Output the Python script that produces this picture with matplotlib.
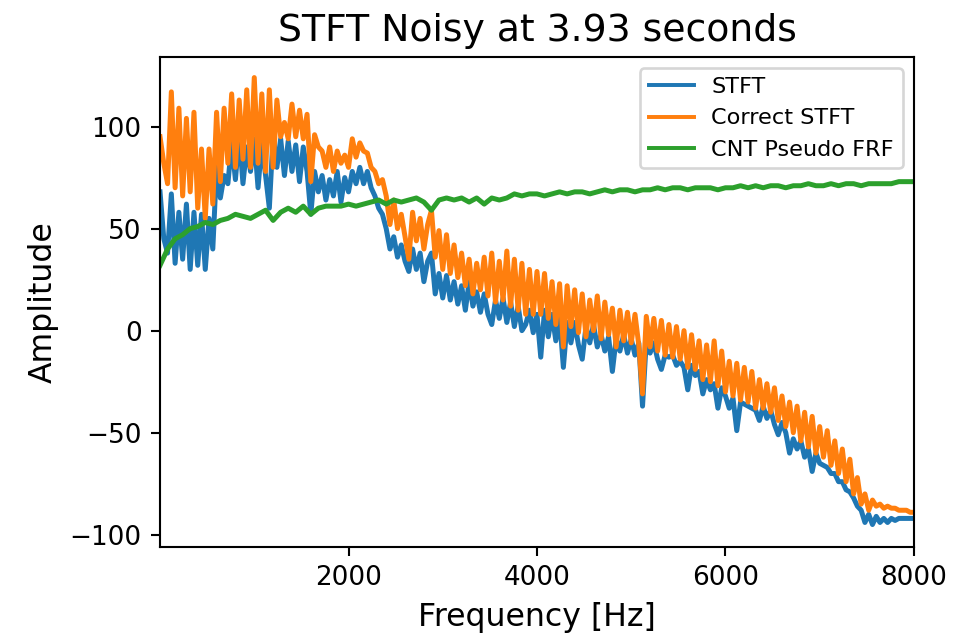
import numpy as np
import matplotlib
matplotlib.use("Agg")
import matplotlib.pyplot as plt

# STFT magnitude (dB-like amplitude), 40 Hz bins from 0 to 8000 Hz
stft = [
    68, 45, 38, 67, 33, 58, 35, 62, 30, 58,
    32, 57, 30, 55, 40, 80, 65, 76, 72, 92,
    74, 96, 72, 90, 78, 94, 70, 92, 76, 60,
    96, 80, 94, 76, 93, 78, 91, 73, 90, 78,
    57, 78, 68, 76, 64, 74, 66, 78, 63, 75,
    68, 78, 72, 80, 72, 78, 70, 66, 60, 57,
    50, 40, 46, 36, 42, 34, 29, 40, 30, 38,
    24, 34, 38, 18, 28, 16, 27, 15, 24, 13,
    22, 10, 24, 12, 19, 9, 18, 8, 3, 15,
    6, 16, 4, 14, 2, 12, 0, 3, 10, -1,
    8, -13, 10, -3, 8, -5, 6, -18, 4, -6,
    4, -7, -14, 2, -6, 3, -8, -2, -10, -3,
    -20, -4, -10, -2, -11, -4, -12, -6, -37, -5,
    -11, -6, -14, -19, -12, -13, -12, -17, -15, -18,
    -29, -17, -22, -20, -31, -24, -29, -26, -38, -28,
    -32, -38, -33, -49, -35, -36, -37, -38, -39, -44,
    -37, -43, -39, -46, -51, -45, -50, -60, -53, -58,
    -54, -62, -58, -69, -60, -65, -66, -67, -70, -70,
    -74, -74, -78, -79, -82, -86, -88, -94, -90, -95,
    -91, -94, -92, -94, -92, -93, -92, -92, -92, -92,
    -92,
]

# Corrected STFT, same 40 Hz bins
correct_stft = [
    95, 82, 72, 117, 70, 109, 66, 104, 68, 107,
    60, 89, 55, 89, 62, 107, 73, 109, 82, 116,
    80, 113, 84, 118, 80, 124, 82, 116, 78, 118,
    80, 113, 95, 102, 94, 111, 95, 108, 94, 106,
    73, 96, 90, 88, 80, 90, 78, 88, 82, 86,
    80, 94, 85, 92, 88, 87, 80, 78, 72, 74,
    66, 52, 64, 50, 57, 46, 35, 58, 44, 55,
    40, 52, 59, 36, 49, 30, 47, 28, 42, 26,
    38, 22, 35, 18, 33, 20, 36, 17, 38, 14,
    34, 15, 39, 12, 35, 10, 33, 8, 30, 8,
    29, 8, 28, 6, 24, 3, 23, -8, 22, 2,
    20, -1, 18, -3, 15, 0, 17, -4, 14, -2,
    11, -8, 10, -5, 9, -6, 8, -7, -31, 7,
    -8, 6, -10, 5, -12, 3, -13, 2, -14, 0,
    -18, -2, -19, -5, -24, -7, -25, -5, -27, -10,
    -30, -15, -32, -16, -34, -18, -35, -20, -38, -24,
    -38, -26, -40, -28, -44, -32, -47, -35, -50, -37,
    -54, -40, -57, -42, -60, -47, -62, -49, -66, -54,
    -70, -58, -74, -63, -80, -72, -85, -80, -88, -83,
    -86, -85, -87, -86, -87, -87, -88, -88, -88, -89,
    -89,
]

# CNT pseudo FRF, 80 Hz bins from 0 to 8000 Hz
cnt_frf = [
    32, 40, 45, 47, 50, 51, 53, 52, 54, 55,
    57, 56, 55, 57, 59, 54, 58, 60, 58, 61,
    57, 60, 61, 61, 61, 62, 61, 62, 63, 64,
    62, 64, 63, 64, 65, 63, 59, 64, 65, 64,
    65, 63, 65, 62, 65, 64, 65, 67, 66, 67,
    67, 66, 67, 68, 67, 68, 68, 67, 68, 69,
    68, 69, 69, 68, 69, 69, 70, 69, 70, 70,
    69, 70, 70, 70, 69, 70, 70, 71, 70, 71,
    70, 71, 71, 70, 71, 71, 72, 71, 71, 72,
    71, 72, 72, 71, 72, 72, 72, 72, 73, 73,
    73,
]

f_max = 8000
freq = np.linspace(0, f_max, len(stft))
freq_corr = np.linspace(0, f_max, len(correct_stft))
freq_frf = np.linspace(0, f_max, len(cnt_frf))

fig = plt.figure(figsize=(956 / 189, 635 / 189), dpi=189)
ax = fig.add_axes([0.1674, 0.1386, 0.7886, 0.7714])

ax.plot(freq, stft, color="#1f77b4", lw=1.9, label="STFT")
ax.plot(freq_corr, correct_stft, color="#ff7f0e", lw=1.9, label="Correct STFT")
ax.plot(freq_frf, cnt_frf, color="#2ca02c", lw=1.9, label="CNT Pseudo FRF")

ax.set_xlim(0, f_max)
ax.set_ylim(-106, 134)
ax.set_xticks([2000, 4000, 6000, 8000])
ax.set_yticks([-100, -50, 0, 50, 100])
ax.tick_params(labelsize=10)

ax.set_title("STFT Noisy at 3.93 seconds", fontsize=14.4)
ax.set_xlabel("Frequency [Hz]", fontsize=12)
ax.set_ylabel("Amplitude", fontsize=12)
leg = ax.legend(loc="upper right", fontsize=8.5)
for line in leg.get_lines():
    line.set_linewidth(1.5)

fig.savefig("out.png", dpi=189)
